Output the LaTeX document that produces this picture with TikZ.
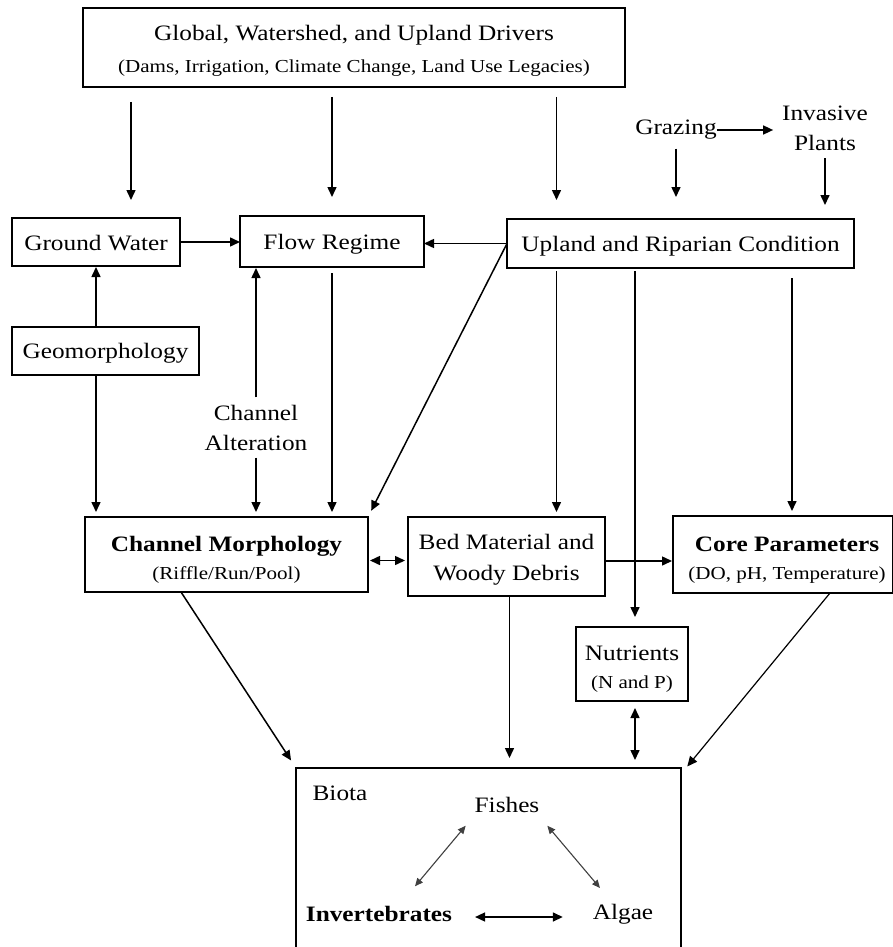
\documentclass[tikz,border=0pt]{standalone}
\usepackage{fontspec}
\setmainfont{Liberation Serif}[FakeStretch=1.15]
\usetikzlibrary{arrows.meta,calc}

\newcommand\fmain{\fontsize{22}{26}\selectfont}
\newcommand\fsub{\fontsize{18.3}{22}\selectfont}

\tikzset{
  every node/.style={inner sep=0pt, outer sep=0pt},
  box/.style={draw, line width=1.5pt},
  keybox/.style={box, line width=2.8pt},
  lbl/.style={align=center, font=\fmain},
  tip/.tip={Triangle[length=10pt,width=9pt]},
  arr/.style={line width=1.5pt, -tip},
  darr/.style={line width=1.5pt, tip-tip},
  inarr/.style={line width=1.1pt, draw=black!75, {Triangle[length=8pt,width=7pt]}-{Triangle[length=8pt,width=7pt]}}
}

\begin{document}
\begin{tikzpicture}[x=1pt, y=-1pt]
\useasboundingbox (0,0) rectangle (893,947);
\fill[white] (0,0) rectangle (893,947);
\clip (0,0) rectangle (893,947);

% boxes
\node[box, minimum width=542, minimum height=79] (drivers) at (354,47.5) {};
\node[box, minimum width=168, minimum height=48] (gw) at (96,242) {};
\node[box, minimum width=184, minimum height=51] (fr) at (332,241.5) {};
\node[box, minimum width=347, minimum height=49] (ur) at (680.5,243.5) {};
\node[box, minimum width=187, minimum height=48] (geo) at (105.5,351) {};
\node[keybox, minimum width=283, minimum height=75] (cm) at (226.5,554.5) {};
\node[box, minimum width=197, minimum height=79] (bm) at (506.5,556.5) {};
\node[keybox, minimum width=220, minimum height=77] (cp) at (783,554.5) {};
\node[box, minimum width=112, minimum height=74] (nut) at (632,664) {};
\node[box, minimum width=385, minimum height=192] (biota) at (488.5,864) {};

% box texts
\node[lbl] (driverst) at ($(drivers)+(0,3.5)$)
  {Global, Watershed, and Upland Drivers\\[6pt]{\fsub (Dams, Irrigation, Climate Change, Land Use Legacies)}};
\node[lbl] (gwt) at ($(gw)+(0,1)$) {Ground Water};
\node[lbl] (frt) at ($(fr)+(0,3)$) {Flow Regime};
\node[lbl] (urt) at ($(ur)+(0,2.5)$) {Upland and Riparian Condition};
\node[lbl] (geot) at ($(geo)+(0,2)$) {Geomorphology};
\node[lbl] (cmt) at ($(cm)+(0,5)$) {\textbf{Channel Morphology}\\[2pt]{\fsub (Riffle/Run/Pool)}};
\node[lbl] (bmt) at ($(bm)+(0,3)$) {Bed Material and\\[5pt]Woody Debris};
\node[lbl] (cpt) at ($(cp)+(4,5.5)$) {\textbf{Core Parameters}\\[2pt]{\fsub (DO, pH, Temperature)}};
\node[lbl] (nutt) at ($(nut)+(0,5)$) {Nutrients\\[2pt]{\fsub (N and P)}};

% free labels
\node[lbl] (grazing) at (676,130) {Grazing};
\node[lbl] (invasive) at (825,128) {Invasive\\[4pt]Plants};
\node[lbl] (calt) at (256,428) {Channel\\[4pt]Alteration};
\node[lbl] (biotalbl) at (340,793) {Biota};
\node[lbl] (fishes) at (507,805) {Fishes};
\node[lbl] (invert) at (379,914) {\textbf{Invertebrates}};
\node[lbl] (algae) at (623,914) {Algae};

% drivers feeding the upper row
\draw[arr, shorten <=15pt, shorten >=18pt] ($(drivers.south -| gw.north)+(35,0)$) -- ($(gw.north)+(35,0)$);
\draw[arr, shorten <=10pt, shorten >=19pt] (drivers.south -| fr.north) -- (fr.north);
\draw[arr, shorten <=10pt, shorten >=19pt] ($(drivers.south -| ur.north)+(-124,0)$) -- ($(ur.north)+(-124,0)$);
\draw[arr, shorten <=9pt, shorten >=22pt] (grazing.south) -- (grazing.south |- ur.north);
\draw[arr, shorten <=8pt, shorten >=14pt] (invasive.south) -- (invasive.south |- ur.north);
\draw[arr, shorten >=9pt] (grazing.east) -- (grazing.east -| invasive.west);

% upper row links
\draw[arr] (gw.east) -- (gw.east -| fr.west);
\draw[arr] (ur.west) -- (ur.west -| fr.east);
\draw[arr, shorten >=7pt] (ur.west) -- (cm.north east);
\draw[arr, shorten >=1pt] (geo.north -| gw.south) -- (gw.south);
\draw[arr, shorten >=5pt] (geo.south -| gw.south) -- (gw.south |- cm.north);
\draw[arr, shorten <=8pt, shorten >=1pt] (calt.north) -- (calt.north |- fr.south);
\draw[arr, shorten <=7pt, shorten >=5pt] (calt.south) -- (calt.south |- cm.north);
\draw[arr, shorten <=6pt, shorten >=5pt] (fr.south) -- (fr.south |- cm.north);
\draw[arr, shorten <=3pt, shorten >=5pt] ($(ur.south -| bm.north)+(50,0)$) -- ($(bm.north)+(50,0)$);
\draw[arr, shorten <=3pt, shorten >=10pt] ($(ur.south -| nut.north)+(3,0)$) -- ($(nut.north)+(3,0)$);
\draw[arr, shorten <=10pt, shorten >=5pt] ($(ur.south -| cp.north)+(9,0)$) -- ($(cp.north)+(9,0)$);

% middle row links
\draw[darr, shorten <=2pt, shorten >=3pt] ($(cm.east)+(0,6)$) -- ($(cm.east -| bm.west)+(0,6)$);
\draw[arr, shorten >=1pt] ($(bm.east)+(0,4.5)$) -- ($(bm.east -| cp.west)+(0,4.5)$);

% into the biota
\draw[darr, shorten <=7pt, shorten >=8pt] ($(nut.south)+(3,0)$) -- ($(nut.south |- biota.north)+(3,0)$);
\draw[arr, shorten >=10pt] ($(bm.south)+(3,0)$) -- ($(bm.south |- biota.north)+(3,0)$);
\draw[arr, shorten >=9pt] ($(cm.south)+(-45.5,0)$) -- (biota.north west);
\draw[arr, line width=1.2pt, shorten >=2pt] ($(cp.south)+(47,0)$) -- ($(biota.north east)+(5,0)$);

% interactions within the biota
\draw[inarr] ($(invert.north)+(36,-20)$) -- ($(fishes.south west)+(-9,13)$);
\draw[inarr] ($(fishes.south east)+(8,13)$) -- ($(algae.north)+(-23,-16)$);
\draw[darr] ($(invert.east)+(23,3)$) -- ($(algae.west)+(-30,3)$);
\end{tikzpicture}
\end{document}
